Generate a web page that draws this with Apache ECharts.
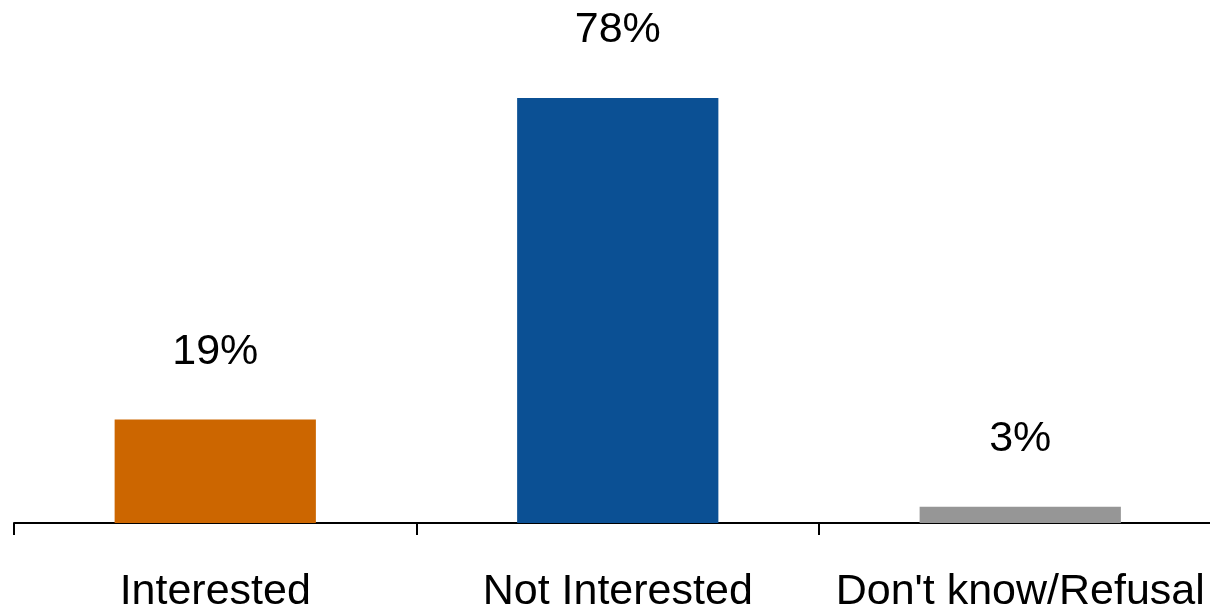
<!DOCTYPE html>
<html>
<head>
<meta charset="utf-8">
<script src="https://cdn.jsdelivr.net/npm/echarts@6/dist/echarts.min.js"></script>
<style>
html,body{margin:0;padding:0;background:#fff;}
#chart{width:1210px;height:612px;}
</style>
</head>
<body>
<div id="chart"></div>
<script>
const categories = ["Interested", "Not Interested", "Don't know/Refusal"];
const values = [19, 78, 3];
const barColors = ["#CC6600", "#0B5094", "#969696"];

const chart = echarts.init(document.getElementById('chart'));
chart.setOption({
  animation: false,
  grid: { left: 14, width: 1207.5, top: 87, bottom: 89, containLabel: false, outerBoundsMode: 'none' },
  xAxis: {
    type: 'category',
    data: categories,
    axisLine: { lineStyle: { color: '#000', width: 2 } },
    axisTick: { show: true, length: 12, lineStyle: { color: '#000', width: 2 } },
    axisLabel: { color: '#000', fontSize: 43, fontFamily: 'Liberation Sans', margin: 48, interval: 0 }
  },
  yAxis: {
    type: 'value', min: 0, max: 80, show: false,
    splitLine: { show: false }
  },
  series: [{
    type: 'bar',
    barWidth: '50%',
    data: values.map((v, i) => ({ value: v, itemStyle: { color: barColors[i] } })),
    label: {
      show: true, position: 'top', distance: 46,
      formatter: p => p.value + '%',
      color: '#000', fontSize: 43, fontFamily: 'Liberation Sans'
    }
  }]
});
</script>
</body>
</html>
